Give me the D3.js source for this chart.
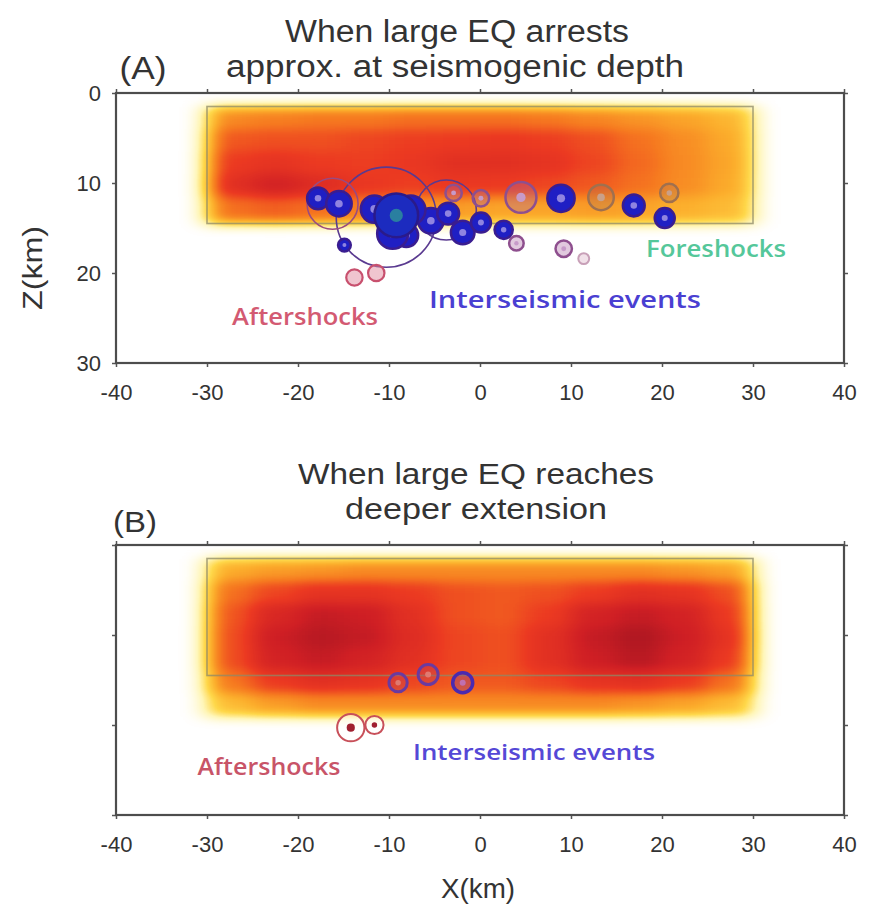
<!DOCTYPE html>
<html>
<head>
<meta charset="utf-8">
<script src="https://cdn.jsdelivr.net/npm/d3@7"></script>
<style>
  body { margin: 0; background: #fff; }
  svg { display: block; }
  .tick text { font-family: "Liberation Sans", Arial, sans-serif; fill: #333; }
</style>
</head>
<body>
<svg width="872" height="910"></svg>
<script>
// ---- data (km) ----
const xTicks = [-40, -30, -20, -10, 0, 10, 20, 30, 40];
const zTicks = [0, 10, 20, 30];

// heat grid columns (x edges) shared by both panels
const heatX = [-30, -25, -20, -15, -10, -5, 0, 5, 10, 15, 20, 25, 30];

// panel A: slip while the large EQ stops near seismogenic depth
const heatZA = [1.5, 4, 6.5, 9, 11.5, 14.5];
const heatA = [
  [0.55, 0.58, 0.6, 0.6, 0.62, 0.62, 0.62, 0.6, 0.56, 0.52, 0.48, 0.42],
  [0.68, 0.7, 0.7, 0.72, 0.74, 0.75, 0.76, 0.74, 0.7, 0.62, 0.54, 0.46],
  [0.75, 0.78, 0.75, 0.74, 0.76, 0.8, 0.8, 0.78, 0.72, 0.64, 0.55, 0.47],
  [0.8, 0.88, 0.82, 0.76, 0.74, 0.76, 0.75, 0.72, 0.68, 0.62, 0.54, 0.46],
  [0.62, 0.66, 0.62, 0.58, 0.52, 0.5, 0.48, 0.48, 0.5, 0.48, 0.44, 0.4]
];

// panel B: slip when the large EQ goes deeper
const heatZB = [1.5, 4, 6.5, 9, 11.5, 14, 16.5, 19];
const heatB = [
  [0.45, 0.5, 0.52, 0.55, 0.55, 0.55, 0.55, 0.55, 0.55, 0.55, 0.52, 0.48],
  [0.62, 0.72, 0.78, 0.78, 0.75, 0.7, 0.68, 0.7, 0.75, 0.8, 0.78, 0.7],
  [0.68, 0.85, 0.92, 0.9, 0.8, 0.7, 0.68, 0.75, 0.88, 0.92, 0.88, 0.75],
  [0.7, 0.9, 0.95, 0.92, 0.82, 0.72, 0.7, 0.8, 0.92, 0.97, 0.9, 0.78],
  [0.7, 0.88, 0.92, 0.88, 0.8, 0.72, 0.7, 0.8, 0.9, 0.95, 0.88, 0.75],
  [0.6, 0.75, 0.8, 0.78, 0.72, 0.68, 0.68, 0.72, 0.78, 0.8, 0.75, 0.62],
  [0.4, 0.5, 0.55, 0.55, 0.55, 0.55, 0.55, 0.55, 0.55, 0.52, 0.48, 0.4]
];

// seismogenic zone box
const zoneBox = { x0: -30, x1: 30, z0: 1.5, z1: 14.5 };

// events: [x, z, radius km, kind]
const eventsA = [
  [-10.3, 13.8, 5.5, 'thin'],
  [-3.7, 13.0, 3.3, 'thin'],
  [-16.2, 12.3, 2.8, 'thinR'],
  [4.5, 11.6, 1.7, 'ring'],
  [13.3, 11.6, 1.4, 'ringB'],
  [20.8, 11.1, 1.0, 'ringB'],
  [-2.9, 11.1, 0.9, 'ring'],
  [0.1, 11.7, 0.9, 'ring'],
  [4.0, 16.7, 0.8, 'ring'],
  [9.2, 17.3, 0.9, 'ring'],
  [11.4, 18.4, 0.6, 'ringL'],
  [-17.8, 11.7, 1.2, 'inter'],
  [-15.5, 12.3, 1.4, 'inter'],
  [-8.1, 15.8, 1.3, 'inter'],
  [-5.4, 14.2, 1.4, 'inter'],
  [-3.5, 13.4, 1.2, 'inter'],
  [-1.9, 15.5, 1.3, 'inter'],
  [0.1, 14.4, 1.1, 'inter'],
  [2.6, 15.2, 1.0, 'inter'],
  [8.9, 11.7, 1.5, 'inter'],
  [16.9, 12.5, 1.2, 'inter'],
  [20.3, 13.9, 1.1, 'inter'],
  [-14.9, 16.9, 0.7, 'inter'],
  [-11.6, 12.9, 1.5, 'inter'],
  [-7.6, 13.0, 1.6, 'inter'],
  [-9.6, 15.6, 1.7, 'inter'],
  [-9.2, 13.6, 2.4, 'main'],
  [-13.8, 20.5, 0.9, 'after'],
  [-11.4, 20.0, 0.9, 'after']
];
const eventsB = [
  [-9.0, 15.3, 1.0, 'ringP'],
  [-5.7, 14.4, 1.1, 'ringP'],
  [-1.9, 15.3, 1.1, 'ringI'],
  [-14.2, 20.3, 1.5, 'afterB'],
  [-11.6, 20.0, 1.0, 'afterB']
];

// ---- layout ----
const svg = d3.select('svg');
const x = d3.scaleLinear().domain([-40, 40]).range([116, 844]);
const yA = d3.scaleLinear().domain([0, 30]).range([93, 363]);
const yB = d3.scaleLinear().domain([0, 30]).range([545, 815]);

// colormap white -> yellow -> orange -> red
const heatColor = d3.scaleLinear()
  .domain([0, 0.15, 0.3, 0.45, 0.6, 0.75, 0.9, 1])
  .range(['#ffffff', '#fff6b8', '#ffd84a', '#fcae2c', '#f67a20', '#ec3a22', '#cf1f25', '#a31420']);

const defs = svg.append('defs');
// blur in value space (grey), then map grey to the colormap
const filt = defs.append('filter').attr('id', 'heat')
  .attr('filterUnits', 'userSpaceOnUse')
  .attr('x', 0).attr('y', 0).attr('width', 872).attr('height', 910)
  .attr('color-interpolation-filters', 'sRGB');
filt.append('feGaussianBlur').attr('stdDeviation', '12 6');
const ct = filt.append('feComponentTransfer');
const samples = d3.range(21).map(i => d3.rgb(heatColor(1 - i / 20)));
['R', 'G', 'B'].forEach((ch, k) => {
  ct.append('feFunc' + ch).attr('type', 'table')
    .attr('tableValues', samples.map(c => ([c.r, c.g, c.b][k] / 255).toFixed(3)).join(' '));
});

const styles = {
  thin:  { fill: 'none', stroke: '#5a3a90', sw: 1.6, dot: null },
  thinR: { fill: 'none', stroke: '#9a4a80', sw: 1.6, dot: null },
  ring:  { fill: 'rgba(170,100,160,0.35)', stroke: '#8e4f8e', sw: 2.5, dot: '#c79ac9' },
  ringB: { fill: 'rgba(170,120,90,0.3)', stroke: '#a0704e', sw: 2.5, dot: '#c9a08a' },
  ringL: { fill: 'rgba(220,180,200,0.4)', stroke: '#c8a0b8', sw: 2, dot: null },
  inter: { fill: '#1f1fc4', stroke: '#3a1d90', sw: 2.5, dot: '#8f84e0' },
  main:  { fill: '#1c2bbf', stroke: '#2a1a8a', sw: 2.5, dot: '#2a7fa0' },
  after: { fill: 'rgba(225,140,160,0.5)', stroke: '#c8506e', sw: 2.2, dot: null },
  ringP: { fill: 'rgba(190,70,90,0.35)', stroke: '#6a3aa0', sw: 3, dot: '#e07a70' },
  ringI: { fill: 'rgba(120,60,170,0.3)', stroke: '#4a2ab0', sw: 3.5, dot: '#c070b0' },
  afterB:{ fill: 'rgba(255,255,255,0.6)', stroke: '#c8505a', sw: 2, dot: '#a02030' }
};

function panel(y, heatZ, heat, events, showYLabels, showXLabels) {
  const g = svg.append('g');

  // heat field
  const hg = g.append('g').attr('filter', 'url(#heat)');
  hg.append('rect')
    .attr('x', x(-40)).attr('y', y(0))
    .attr('width', x(40) - x(-40)).attr('height', y(30) - y(0))
    .attr('fill', '#fff');
  heat.forEach((row, i) => {
    row.forEach((v, j) => {
      const g1 = Math.round(255 * (1 - v));
      hg.append('rect')
        .attr('x', x(heatX[j])).attr('y', y(heatZ[i]))
        .attr('width', x(heatX[j + 1]) - x(heatX[j]) + 0.5)
        .attr('height', y(heatZ[i + 1]) - y(heatZ[i]) + 0.5)
        .attr('fill', `rgb(${g1},${g1},${g1})`);
    });
  });

  // seismogenic zone outline
  g.append('rect')
    .attr('x', x(zoneBox.x0)).attr('y', y(zoneBox.z0))
    .attr('width', x(zoneBox.x1) - x(zoneBox.x0))
    .attr('height', y(zoneBox.z1) - y(zoneBox.z0))
    .attr('fill', 'none').attr('stroke', '#8d8a68').attr('stroke-opacity', 0.75)
    .attr('stroke-width', 1.6);

  // events
  const sx = x(1) - x(0);
  events.forEach(d => {
    const s = styles[d[3]];
    g.append('circle')
      .attr('cx', x(d[0])).attr('cy', y(d[1])).attr('r', d[2] * sx)
      .attr('fill', s.fill).attr('stroke', s.stroke).attr('stroke-width', s.sw);
    if (s.dot) {
      g.append('circle')
        .attr('cx', x(d[0])).attr('cy', y(d[1])).attr('r', Math.max(2, d[2] * sx * 0.3))
        .attr('fill', s.dot);
    }
  });

  // frame + axes
  const fnt = 22;
  const fmt = d => String(d);
  const bottom = g.append('g').attr('transform', `translate(0,${y(30)})`)
    .call(d3.axisBottom(x).tickValues(xTicks).tickSize(4).tickPadding(17)
      .tickFormat(showXLabels ? fmt : ''));
  const top = g.append('g').attr('transform', `translate(0,${y(0)})`)
    .call(d3.axisTop(x).tickValues(xTicks).tickSize(4).tickFormat(''));
  const left = g.append('g').attr('transform', `translate(${x(-40)},0)`)
    .call(d3.axisLeft(y).tickValues(zTicks).tickSize(4).tickPadding(11)
      .tickFormat(showYLabels ? fmt : ''));
  const right = g.append('g').attr('transform', `translate(${x(40)},0)`)
    .call(d3.axisRight(y).tickValues(zTicks).tickSize(4).tickFormat(''));
  [bottom, top, left, right].forEach(a => {
    a.select('.domain').remove();
    a.selectAll('line').attr('stroke', '#555').attr('stroke-width', 1.5);
    a.selectAll('text').attr('font-size', fnt);
  });
  g.append('rect')
    .attr('x', x(-40)).attr('y', y(0))
    .attr('width', x(40) - x(-40)).attr('height', y(30) - y(0))
    .attr('fill', 'none').attr('stroke', '#4d4d4d').attr('stroke-width', 2.2);
  return g;
}

panel(yA, heatZA, heatA, eventsA, true, true);
panel(yB, heatZB, heatB, eventsB, false, true);

// ---- text ----
const titleFont = '"Liberation Sans", Arial, sans-serif';
const annFont = '"Open Sans", "Noto Sans", sans-serif';

function label(t, cx, base, len, size, fill, font, weight) {
  svg.append('text')
    .attr('x', cx).attr('y', base)
    .attr('text-anchor', 'middle')
    .attr('font-family', font).attr('font-size', size)
    .attr('font-weight', weight || 'normal')
    .attr('fill', fill)
    .attr('textLength', len).attr('lengthAdjust', 'spacingAndGlyphs')
    .text(t);
}

label('When large EQ arrests', 457, 42, 344, 31, '#333', titleFont);
label('approx. at seismogenic depth', 455, 77, 458, 31, '#333', titleFont);
label('(A)', 143, 79, 47, 31, '#333', titleFont);

label('When large EQ reaches', 476, 484, 356, 30, '#333', titleFont);
label('deeper extension', 476, 519, 262, 30, '#333', titleFont);
label('(B)', 135, 532, 44, 30, '#333', titleFont);

label('Foreshocks', 716, 257, 140, 24, '#55c79a', annFont, 600);
label('Interseismic events', 565, 308, 272, 23, '#4a3fd2', annFont, 600);
label('Aftershocks', 305, 325, 146, 23, '#d35a72', annFont, 600);
label('Aftershocks', 269, 775, 143, 23, '#c85468', annFont, 600);
label('Interseismic events', 534, 760, 242, 22, '#5548d6', annFont, 600);

label('X(km)', 478, 898, 74, 28, '#333', titleFont);
svg.append('text')
  .attr('transform', 'translate(42,268) rotate(-90)')
  .attr('text-anchor', 'middle')
  .attr('font-family', titleFont).attr('font-size', 27)
  .attr('fill', '#333')
  .attr('textLength', 84).attr('lengthAdjust', 'spacingAndGlyphs')
  .text('Z(km)');
</script>
</body>
</html>
